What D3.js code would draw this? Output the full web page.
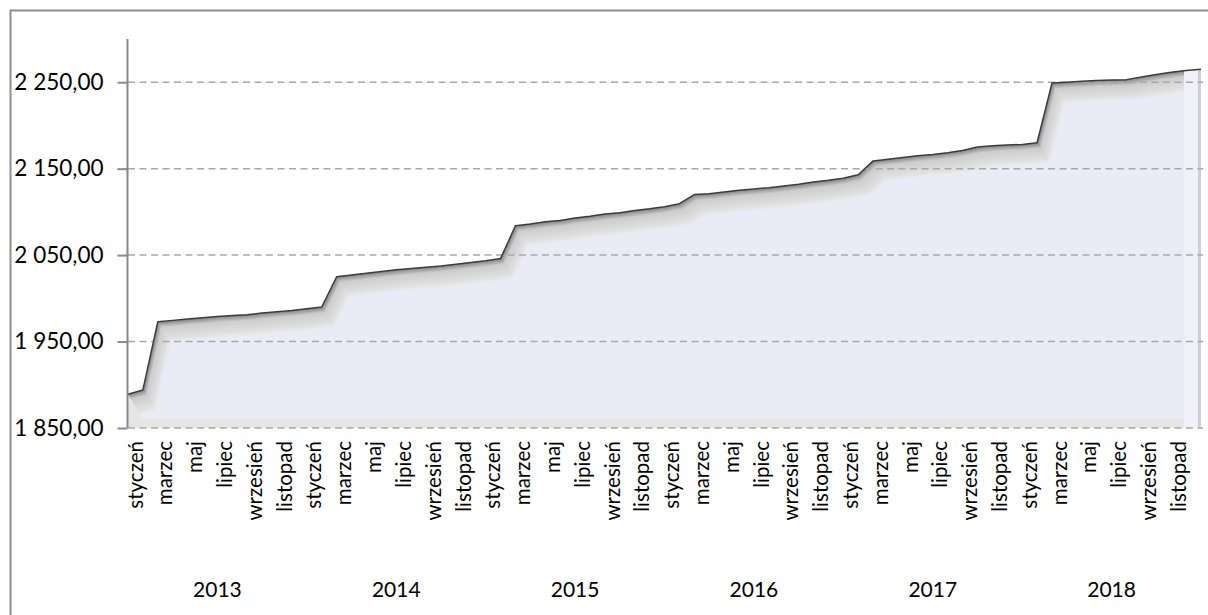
<!DOCTYPE html>
<html>
<head>
<meta charset="utf-8">
<script src="https://cdn.jsdelivr.net/npm/d3@7"></script>
<style>
  html, body { margin: 0; padding: 0; background: #fff; }
  svg { display: block; font-family: Lato, "Open Sans", sans-serif; }
</style>
</head>
<body>
<svg id="chart" width="1208" height="615"></svg>
<script>
// ---- data ----
const years = [2013, 2014, 2015, 2016, 2017, 2018];
const monthNames = ["styczeń","luty","marzec","kwiecień","maj","czerwiec","lipiec","sierpień","wrzesień","październik","listopad","grudzień"];
// monthly values Jan 2013 ... Jan 2019 (last point closes the plot at the right edge)
const values = [
  1889, 1894, 1973, 1974.5, 1976, 1977.5, 1979, 1980, 1981, 1983, 1984.5, 1986,
  1988, 1990, 2025, 2027, 2029, 2031, 2033, 2034.5, 2036, 2037.5, 2039.5, 2041.5,
  2043.5, 2046, 2084, 2086, 2088.5, 2090, 2093, 2095, 2097.5, 2099, 2101.5, 2103.5,
  2106, 2109.5, 2120, 2121, 2123, 2125, 2126.5, 2128, 2130, 2132, 2134.5, 2136.5,
  2139, 2143, 2159, 2161, 2163, 2165, 2166.5, 2168.5, 2171, 2175, 2176.5, 2177.5,
  2178, 2180, 2249, 2250, 2251, 2252, 2252.5, 2253, 2256, 2259, 2261.5, 2263.5,
  2265
];
const yTicks = [1850, 1950, 2050, 2150, 2250];
const yDomain = [1850, 2300];

// ---- layout ----
const svg = d3.select("#chart");
const plotL = 128, plotR = 1201, plotT = 39, plotB = 428;
const nMonths = years.length * 12;

const x = d3.scaleLinear().domain([0, nMonths]).range([plotL, plotR]);
const y = d3.scaleLinear().domain(yDomain).range([plotB, plotT]);

const fmt = v => {
  const s = d3.format(",.2f")(v);
  return s.replace(/,/g, " ").replace(".", ",");
};

// outer frame
svg.append("rect").attr("x", 10.5).attr("y", 10.5).attr("width", 1400).attr("height", 800)
  .attr("fill", "none").attr("stroke", "#8f8f8f").attr("stroke-width", 2);

const defs = svg.append("defs");
const area = d3.area().x((d, i) => x(i)).y0(y(yDomain[0])).y1(d => y(d));
const line = d3.line().x((d, i) => x(i)).y(d => y(d));

defs.append("clipPath").attr("id", "areaClip")
  .append("path").attr("d", area(values));
defs.append("clipPath").attr("id", "innerClip")
  .append("rect").attr("x", plotL).attr("y", 0).attr("width", 1184 - plotL).attr("height", 418);
defs.append("filter").attr("id", "soft").attr("x", "-5%").attr("y", "-5%").attr("width", "110%").attr("height", "110%")
  .append("feGaussianBlur").attr("stdDeviation", 1.6);

// base area (gray bevel)
const g = svg.append("g");
g.append("path").attr("d", area(values)).attr("fill", "#e6e6e6");

// bevel gradient below the line
const bevel = g.append("g").attr("clip-path", "url(#areaClip)");
const steps = d3.range(0, 20);
const shade = d3.scaleLinear().domain([0, 5, 19]).range(["#8a8a8a", "#cdcdcd", "#e6e6e6"]);
bevel.selectAll("path.bev").data(steps.slice().reverse()).join("path")
  .attr("class", "bev")
  .attr("d", line(values))
  .attr("fill", "none")
  .attr("stroke", k => shade(k))
  .attr("stroke-width", 2.2)
  .attr("transform", k => `translate(${k * 0.62},${k})`);

// right side highlight strips
bevel.append("rect").attr("x", 1184).attr("y", plotT).attr("width", 14).attr("height", plotB - plotT).attr("fill", "#eff1f7");
bevel.append("rect").attr("x", 1198).attr("y", plotT).attr("width", 4).attr("height", plotB - plotT).attr("fill", "#cbcfdb");

// inner face
g.append("g").attr("clip-path", "url(#innerClip)")
  .append("path").attr("d", area(values))
  .attr("transform", "translate(12,19)")
  .attr("fill", "#e9ecf4")
  .attr("filter", "url(#soft)");

// gridlines
svg.append("g").selectAll("line").data(yTicks).join("line")
  .attr("x1", plotL).attr("x2", 1203)
  .attr("y1", d => y(d)).attr("y2", d => y(d))
  .attr("stroke", "#a8a8a8").attr("stroke-width", 1.5)
  .attr("stroke-dasharray", "7,4.5");

// the line
svg.append("path").attr("d", line(values))
  .attr("fill", "none").attr("stroke", "#3c3c3c").attr("stroke-width", 1.5)
  .attr("stroke-linejoin", "round");

// y axis
const yAxis = d3.axisLeft(y).tickValues(yTicks).tickFormat(fmt).tickSize(10).tickPadding(14);
const ya = svg.append("g").attr("transform", `translate(${plotL - 0.5},0)`).call(yAxis);
ya.select(".domain").attr("d", `M0,${plotT}V${plotB}`).attr("stroke", "#888").attr("stroke-width", 2);
ya.selectAll(".tick line").attr("stroke", "#888").attr("stroke-width", 2);
ya.selectAll(".tick text").attr("font-size", 22.5).attr("fill", "#000")
  .attr("font-family", "Lato, 'Open Sans', sans-serif");

// month labels (every second month)
const labelIdx = d3.range(0, nMonths).filter(i => i % 2 === 0);
svg.append("g").selectAll("text").data(labelIdx).join("text")
  .attr("transform", i => `translate(${x(i + 0.5)},441) rotate(-90)`)
  .attr("text-anchor", "end")
  .attr("dy", "0.35em")
  .attr("font-size", 20.5)
  .attr("fill", "#000")
  .text(i => monthNames[i % 12]);

// year labels
svg.append("g").selectAll("text").data(years).join("text")
  .attr("x", (d, k) => x(k * 12 + 6))
  .attr("y", 597)
  .attr("text-anchor", "middle")
  .attr("font-size", 21)
  .attr("fill", "#000")
  .text(d => d);
</script>
</body>
</html>
